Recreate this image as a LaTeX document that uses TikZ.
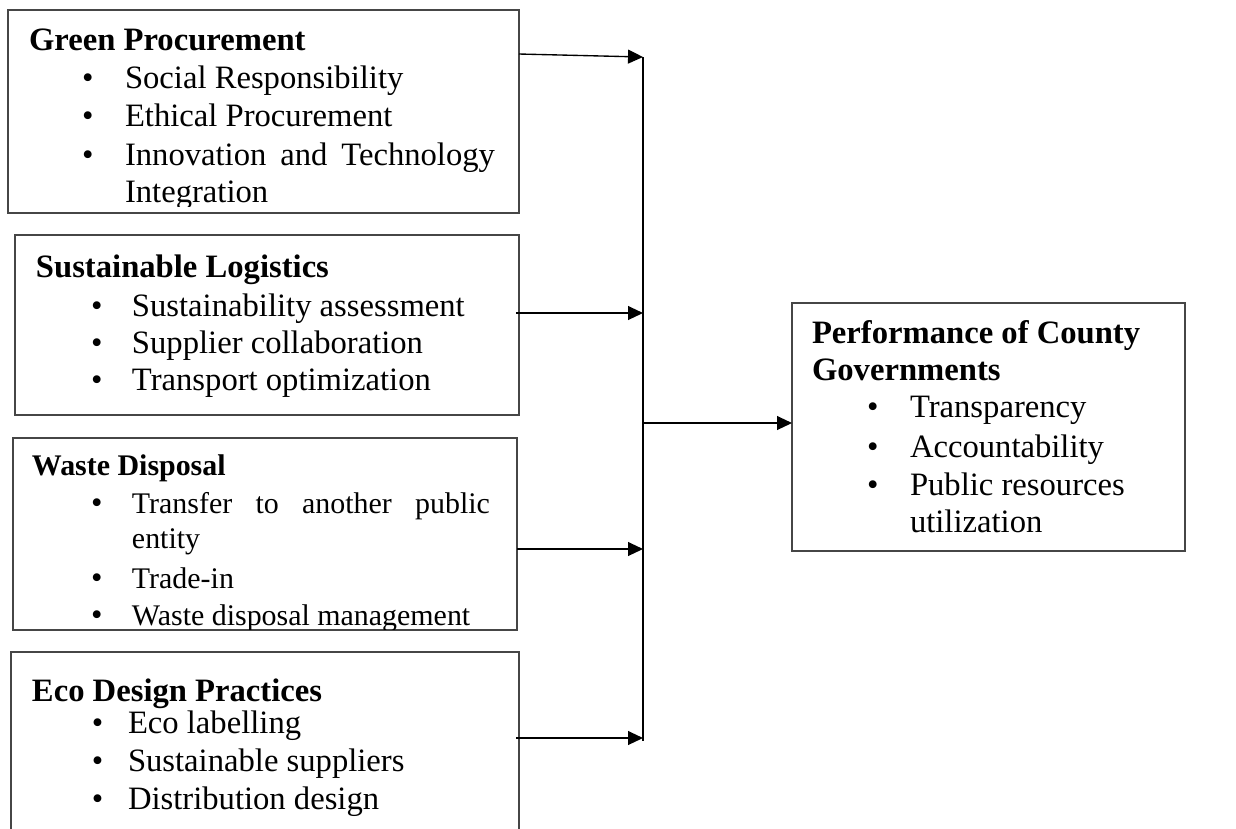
\documentclass[tikz,border=0pt]{standalone}
\usepackage{fontspec}
\setmainfont{Liberation Serif}
\usetikzlibrary{arrows.meta,fit}
\definecolor{boxgray}{RGB}{70,70,70}
\begin{document}
\begin{tikzpicture}[x=0.3676pt, y=-0.3676pt,
  box/.style={draw=boxgray, line width=0.55pt, inner sep=0pt, outer sep=0pt},
  txt/.style={anchor=base west, inner sep=0pt, outer sep=0pt, font=\fontsize{12}{14}\selectfont},
  hd/.style={txt, font=\fontsize{12}{14}\selectfont\bfseries},
  stxt/.style={txt, font=\fontsize{11}{13}\selectfont},
  shd/.style={txt, font=\fontsize{11}{13}\selectfont\bfseries},
  bul/.style={txt},
  conn/.style={draw=black, line width=0.5pt},
  arr/.style={conn, -{Triangle[length=5.5pt,width=5.1pt]}}
]
\clip (0,0) rectangle (1236,828);
\fill[white] (0,0) rectangle (1236,828);

% ---------- Box 1: Green Procurement ----------
\node[box, fit={(8,10) (519,213)}] (gp) {};
\begin{scope}
\clip (8,10) rectangle (519,206);
\node[hd] (gph) at (29,50) {Green Procurement};
\node[bul] (gpb1) at (82,88) {•};
\node[bul] (gpb2) at (82,126) {•};
\node[bul] (gpb3) at (82,165) {•};
\node[txt] (gpt1) at (125,88) {Social Responsibility};
\node[txt] (gpt2) at (125,126) {Ethical Procurement};
\node[txt] (gpt3) at (125,165) {\makebox[136pt][s]{Innovation and Technology}};
\node[txt] (gpt4) at (125,202) {Integration};
\end{scope}

% ---------- Box 2: Sustainable Logistics ----------
\node[box, fit={(15,235) (519,415)}] (sl) {};
\node[hd] (slh) at (36,277) {Sustainable Logistics};
\node[bul] (slb1) at (91,316) {•};
\node[bul] (slb2) at (91,353) {•};
\node[bul] (slb3) at (91,390) {•};
\node[txt] (slt1) at (132,316) {Sustainability assessment};
\node[txt] (slt2) at (132,353) {Supplier collaboration};
\node[txt] (slt3) at (132,390) {Transport optimization};

% ---------- Box 3: Waste Disposal ----------
\node[box, fit={(13,438) (517,630)}] (wd) {};
\begin{scope}
\clip (13,438) rectangle (517,629);
\node[shd] (wdh) at (32,475) {Waste Disposal};
\node[bul] (wdb1) at (91,513) {•};
\node[bul] (wdb2) at (91,588) {•};
\node[bul] (wdb3) at (91,625) {•};
\node[stxt] (wdt1) at (132,513) {\makebox[131.6pt][s]{Transfer to another public}};
\node[stxt] (wdt2) at (132,548) {entity};
\node[stxt] (wdt3) at (132,588) {Trade-in};
\node[stxt] (wdt4) at (132,625) {Waste disposal management};
\end{scope}

% ---------- Box 4: Eco Design Practices ----------
\node[box, fit={(11,652) (519,870)}] (ed) {};
\node[hd] (edh) at (32,701) {Eco Design Practices};
\node[bul] (edb1) at (92,733) {•};
\node[bul] (edb2) at (92,771) {•};
\node[bul] (edb3) at (92,809) {•};
\node[txt] (edt1) at (128,733) {Eco labelling};
\node[txt] (edt2) at (128,771) {Sustainable suppliers};
\node[txt] (edt3) at (128,809) {Distribution design};

% ---------- Right box: Performance ----------
\node[box, fit={(792,303) (1185,551)}] (pc) {};
\node[hd] (pch1) at (812,343) {Performance of County};
\node[hd] (pch2) at (812,380) {Governments};
\node[bul] (pcb1) at (867,417) {•};
\node[bul] (pcb2) at (867,457) {•};
\node[bul] (pcb3) at (867,495) {•};
\node[txt] (pct1) at (910,417) {Transparency};
\node[txt] (pct2) at (910,457) {Accountability};
\node[txt] (pct3) at (910,495) {Public resources};
\node[txt] (pct4) at (910,532) {utilization};

% ---------- Connectors ----------
\coordinate (s1) at (519,54);
\coordinate (s2) at (516,313);
\coordinate (s3) at (517,549);
\coordinate (s4) at (516,738);
\coordinate (j1) at (643,57);
\coordinate (j2) at (643,313);
\coordinate (j3) at (643,549);
\coordinate (j4) at (643,738);
\coordinate (jo) at (643,423);
\coordinate (jb) at (643,741);

\draw[conn] (j1) -- (jb);
\draw[arr] (s1) -- (j1);
\draw[arr] (s2) -- (j2);
\draw[arr] (s3) -- (j3);
\draw[arr] (s4) -- (j4);
\draw[arr] (jo) -- (pc.west |- jo);
\end{tikzpicture}
\end{document}
